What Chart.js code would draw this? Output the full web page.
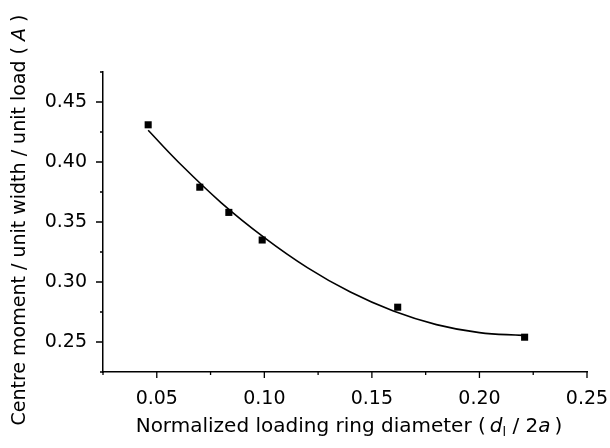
<!DOCTYPE html>
<html>
<head>
<meta charset="utf-8">
<script src="https://cdn.jsdelivr.net/npm/chart.js@4.4.1/dist/chart.umd.min.js"></script>
<style>
  html, body { margin: 0; padding: 0; background: #fff; }
  #wrap { width: 610px; height: 448px; }
</style>
</head>
<body>
<div id="wrap"><canvas id="momentChart" width="610" height="448"></canvas></div>
<script>
// measured points: normalized ring diameter vs centre moment coefficient
var ringDiameter = [0.046, 0.070, 0.0835, 0.099, 0.162, 0.221];
var centreMoment = [0.431, 0.379, 0.358, 0.335, 0.279, 0.254];

// fitted curve
var fitX = [0.046, 0.060, 0.080, 0.100, 0.120, 0.140, 0.160, 0.180, 0.200, 0.220];
var fitY = [0.4264, 0.400, 0.366, 0.337, 0.312, 0.2916, 0.2758, 0.2645, 0.2578, 0.2555];

var xTicks = [0.05, 0.10, 0.15, 0.20, 0.25];
var yTicks = [0.25, 0.30, 0.35, 0.40, 0.45];

var FONT = "'DejaVu Sans', sans-serif";

function isMajor(v, list) {
    return list.some(function(t) { return Math.abs(t - v) < 1e-6; });
}

function pairs(xs, ys) {
    return xs.map(function(x, i) { return { x: x, y: ys[i] }; });
}

// outward tick marks, long for labelled values, short in between
var tickMarks = {
    id: 'tickMarks',
    afterDraw: function(chart) {
        var ctx = chart.ctx, area = chart.chartArea;
        var xs = chart.scales.x, ys = chart.scales.y;
        ctx.save();
        ctx.strokeStyle = '#000';
        ctx.lineWidth = 1.3;
        ctx.beginPath();
        xs.ticks.forEach(function(t) {
            var p = xs.getPixelForValue(t.value);
            var len = isMajor(t.value, xTicks) ? 6 : 3;
            ctx.moveTo(p, area.bottom);
            ctx.lineTo(p, area.bottom + len);
        });
        ys.ticks.forEach(function(t) {
            var p = ys.getPixelForValue(t.value);
            var len = isMajor(t.value, yTicks) ? 7 : 3;
            ctx.moveTo(area.left, p);
            ctx.lineTo(area.left - len, p);
        });
        ctx.stroke();
        ctx.restore();
    }
};

// draw a run of text pieces with their own style and offset
function drawPieces(ctx, pieces, startX, y) {
    var x = startX;
    pieces.forEach(function(pc) {
        ctx.font = pc.font;
        ctx.fillText(pc.text, x, y + (pc.dy || 0));
        x += ctx.measureText(pc.text).width;
    });
}

function piecesWidth(ctx, pieces) {
    var w = 0;
    pieces.forEach(function(pc) {
        ctx.font = pc.font;
        w += ctx.measureText(pc.text).width;
    });
    return w;
}

// axis titles with italic symbols and subscript
var axisTitles = {
    id: 'axisTitles',
    afterDraw: function(chart) {
        var ctx = chart.ctx;
        var reg = '20px ' + FONT, ita = 'italic 20px ' + FONT, sub = '13px ' + FONT;
        var xt = [
            { text: 'Normalized loading ring diameter (\u2009', font: reg },
            { text: 'd', font: ita },
            { text: 'l', font: sub, dy: 4 },
            { text: ' / 2', font: reg },
            { text: 'a', font: ita },
            { text: '\u2009)', font: reg }
        ];
        ctx.save();
        ctx.fillStyle = '#000';
        ctx.textBaseline = 'alphabetic';
        ctx.textAlign = 'left';
        var w = piecesWidth(ctx, xt);
        drawPieces(ctx, xt, 349 - w / 2, 432);

        var reg2 = '19px ' + FONT, ita2 = 'italic 19px ' + FONT;
        var yt = [
            { text: 'Centre moment / unit width / unit load ( ', font: reg2 },
            { text: 'A', font: ita2 },
            { text: ' )', font: reg2 }
        ];
        var wy = piecesWidth(ctx, yt);
        ctx.translate(25, 220);
        ctx.rotate(-Math.PI / 2);
        drawPieces(ctx, yt, -wy / 2, 0);
        ctx.restore();
    }
};

var ctx = document.getElementById('momentChart').getContext('2d');
var momentChart = new Chart(ctx, {
    type: 'scatter',
    data: {
        datasets: [{
            label: 'Fit',
            data: pairs(fitX, fitY),
            showLine: true,
            borderColor: '#000',
            borderWidth: 1.6,
            pointRadius: 0,
            tension: 0.4,
            fill: false
        }, {
            label: 'Measured',
            data: pairs(ringDiameter, centreMoment),
            pointStyle: 'rect',
            pointRadius: 5,
            backgroundColor: '#000',
            borderColor: '#000',
            borderWidth: 0,
            showLine: false
        }]
    },
    options: {
        responsive: false,
        animation: false,
        layout: { padding: { left: 0, top: 72, right: 23, bottom: 0 } },
        plugins: {
            legend: { display: false },
            tooltip: { enabled: false }
        },
        scales: {
            x: {
                type: 'linear',
                min: 0.025,
                max: 0.25,
                grid: { display: true, drawOnChartArea: false, drawTicks: false },
                border: { display: true, color: '#000', width: 1.5 },
                ticks: {
                    stepSize: 0.025,
                    autoSkip: false,
                    maxRotation: 0,
                    padding: 16,
                    color: '#000',
                    font: { family: FONT, size: 19 },
                    callback: function(v) { return isMajor(v, xTicks) ? v.toFixed(2) : ''; }
                },
                afterFit: function(scale) {
                    scale.height = 76;
                    scale.paddingLeft = 0;
                    scale.paddingRight = 0;
                }
            },
            y: {
                type: 'linear',
                min: 0.225,
                max: 0.475,
                grid: { display: true, drawOnChartArea: false, drawTicks: false },
                border: { display: true, color: '#000', width: 1.5 },
                ticks: {
                    stepSize: 0.025,
                    autoSkip: false,
                    padding: 16,
                    color: '#000',
                    font: { family: FONT, size: 19 },
                    callback: function(v) { return isMajor(v, yTicks) ? v.toFixed(2) : ''; }
                },
                afterFit: function(scale) {
                    scale.width = 103;
                    scale.paddingTop = 0;
                    scale.paddingBottom = 0;
                }
            }
        }
    },
    plugins: [tickMarks, axisTitles]
});
</script>
</body>
</html>
